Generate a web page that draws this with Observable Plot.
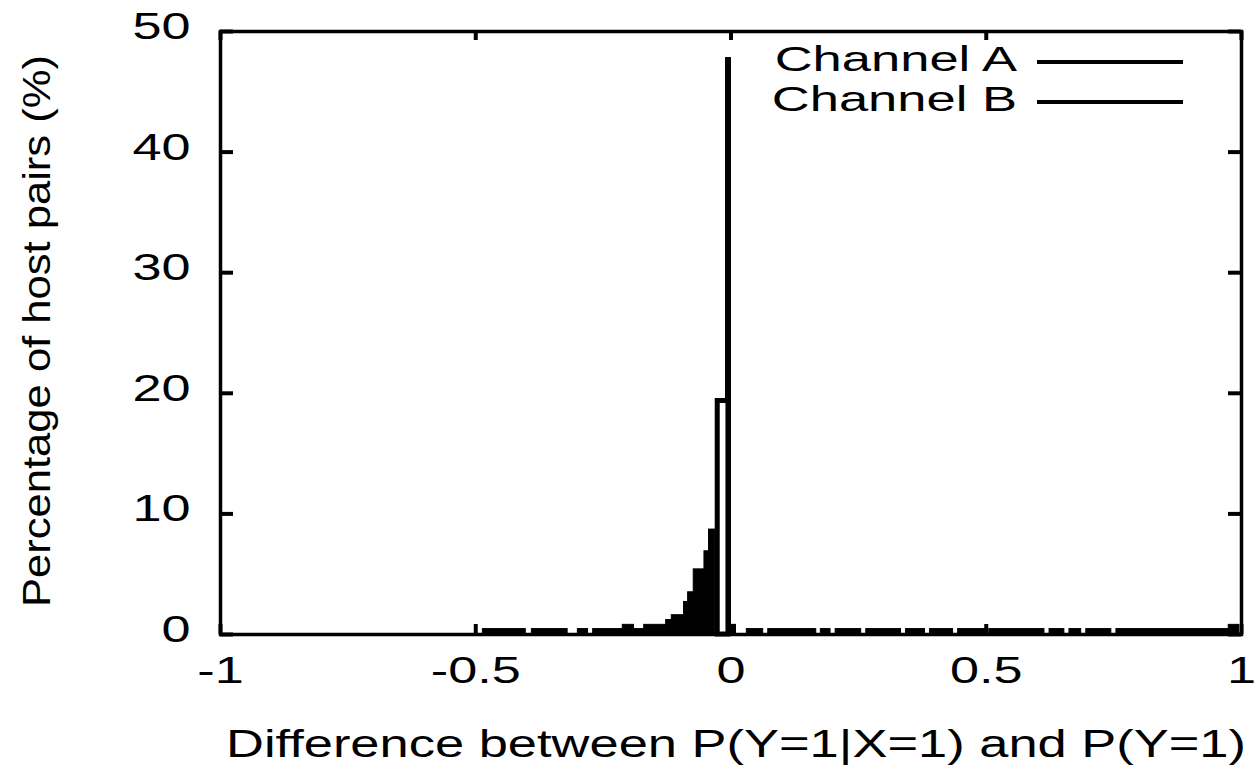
<!DOCTYPE html>
<html><head><meta charset="utf-8">
<script src="https://cdn.jsdelivr.net/npm/d3@7"></script>
<script src="https://cdn.jsdelivr.net/npm/@observablehq/plot@0.6"></script>
<style>body{margin:0;background:#fff} svg{display:block}</style>
</head><body><div id="chart"></div>
<script>
// ---- data ----
const xTicks = [-1, -0.5, 0, 0.5, 1];
const xTickLabels = ["-1", "-0.5", "0", "0.5", "1"];
const yTicks = [0, 10, 20, 30, 40, 50];
const seriesNames = ["Channel A", "Channel B"];
const xTitle = "Difference between P(Y=1|X=1) and P(Y=1)";
const yTitle = "Percentage of host pairs (%)";

// Channel A histogram steps: [from, to, percent]
const channelA = [
  [-0.486, -0.402, 0.45], [-0.390, -0.320, 0.45], [-0.300, -0.280, 0.45],
  [-0.270, -0.212, 0.45], [-0.212, -0.190, 0.8], [-0.190, -0.170, 0.45],
  [-0.170, -0.127, 0.8], [-0.127, -0.116, 1.2], [-0.116, -0.092, 1.6],
  [-0.092, -0.084, 2.7], [-0.084, -0.073, 3.5], [-0.073, -0.052, 5.4],
  [-0.052, -0.043, 6.9], [-0.043, -0.031, 8.7], [-0.0098, 0.0, 47.8],
  [0.0, 0.0098, 0.8], [0.031, 0.063, 0.45], [0.073, 0.167, 0.45],
  [0.176, 0.195, 0.45], [0.205, 0.255, 0.45], [0.265, 0.333, 0.45],
  [0.343, 0.380, 0.45], [0.390, 0.435, 0.45], [0.445, 0.500, 0.45],
  [0.506, 0.614, 0.45], [0.624, 0.653, 0.45], [0.663, 0.686, 0.45],
  [0.696, 0.745, 0.45], [0.755, 0.975, 0.45], [0.975, 0.995, 0.8]
];
// Channel B histogram step (outlined box): [from, to, percent]
const channelB = [
  [-0.026, -0.005, 19.36]
];

const A = channelA.map(([x1, x2, y]) => ({x1, x2, y}));
const B = channelB.map(([x1, x2, y]) => ({x1, x2, y}));

const W = 1256, H = 765, mL = 220, mR = 15, mT = 31, mB = 131;
const plotW = W - mL - mR, plotH = H - mT - mB;

const chart = Plot.plot({
  width: W, height: H,
  marginLeft: mL, marginRight: mR, marginTop: mT, marginBottom: mB,
  style: {fontFamily: "'Liberation Sans', Arial, sans-serif", fontSize: "36px", color: "black", background: "white"},
  x: {domain: [-1, 1], axis: null},
  y: {domain: [0, 50], axis: null},
  marks: [
    Plot.rectY(A, {x1: "x1", x2: "x2", y: "y", fill: "black", stroke: "black", strokeWidth: 1, inset: 0}),
    Plot.rectY(B, {x1: "x1", x2: "x2", y: "y", fill: "white", stroke: "black", strokeWidth: 5, inset: 0}),
    // inward ticks on all four sides
    Plot.tickX(xTicks, {x: d => d, stroke: "black", strokeWidth: 4, insetTop: plotH - 10}),
    Plot.tickX(xTicks, {x: d => d, stroke: "black", strokeWidth: 4, insetBottom: plotH - 9}),
    Plot.tickY(yTicks, {y: d => d, stroke: "black", strokeWidth: 4, insetRight: plotW - 13}),
    Plot.tickY(yTicks, {y: d => d, stroke: "black", strokeWidth: 4, insetLeft: plotW - 13}),
    Plot.frame({stroke: "black", strokeWidth: 3.5}),
    Plot.axisX(xTicks, {anchor: "bottom", tickSize: 0, tickPadding: 23, fontSize: 36,
      tickFormat: d => xTickLabels[xTicks.indexOf(d)], label: null}),
    Plot.axisY(yTicks, {anchor: "left", tickSize: 0, tickPadding: 30, fontSize: 36, dy: -4, label: null})
  ]
});
chart.setAttribute("class", "main-chart");
document.getElementById("chart").appendChild(chart);

const svg = d3.select(chart);
// stretch tick labels horizontally, as in the reference
svg.selectAll("g[aria-label$='tick label'] text").each(function() {
  const len = this.getComputedTextLength();
  this.setAttribute("textLength", len * 1.45);
  this.setAttribute("lengthAdjust", "spacingAndGlyphs");
});

const font = "'Liberation Sans', Arial, sans-serif";
// axis titles
svg.append("text")
  .attr("x", 736).attr("y", 757).attr("text-anchor", "middle")
  .attr("font-family", font).attr("font-size", 38).attr("fill", "black")
  .attr("textLength", 1020).attr("lengthAdjust", "spacingAndGlyphs")
  .text(xTitle);
svg.append("text")
  .attr("transform", "translate(37,331) rotate(-90)")
  .attr("text-anchor", "middle").attr("dy", "0.35em")
  .attr("font-family", font).attr("font-size", 38).attr("fill", "black")
  .attr("textLength", 552).attr("lengthAdjust", "spacingAndGlyphs")
  .text(yTitle);

// legend
const leg = svg.append("g");
seriesNames.forEach((name, i) => {
  const yy = 62 + i * 40;
  const t = leg.append("text")
    .attr("x", 1017).attr("y", yy + 9).attr("text-anchor", "end")
    .attr("font-family", font).attr("font-size", 35).attr("fill", "black")
    .text(name);
  const len = t.node().getComputedTextLength();
  t.attr("textLength", len * 1.5).attr("lengthAdjust", "spacingAndGlyphs");
  leg.append("line").attr("x1", 1037).attr("x2", 1183).attr("y1", yy).attr("y2", yy)
    .attr("stroke", "black").attr("stroke-width", 4);
});
</script>
</body></html>
